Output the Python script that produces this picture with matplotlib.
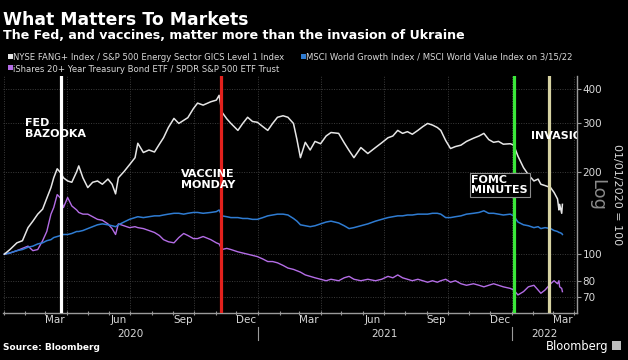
import numpy as np
import pandas as pd
import matplotlib
matplotlib.use('Agg')
import matplotlib.pyplot as plt
import matplotlib.dates as mdates
import matplotlib.transforms as mtransforms
from matplotlib.patches import Rectangle

# Values (01/01/2020 = 100)
dates = pd.to_datetime([
    '2020-01-02', '2020-01-10', '2020-01-20', '2020-01-28', '2020-02-05', '2020-02-12',
    '2020-02-19', '2020-02-26', '2020-03-03', '2020-03-09', '2020-03-13', '2020-03-18',
    '2020-03-23', '2020-03-27', '2020-04-02', '2020-04-08', '2020-04-15', '2020-04-18',
    '2020-04-24', '2020-05-01', '2020-05-08', '2020-05-15', '2020-05-22', '2020-05-30',
    '2020-06-05', '2020-06-10', '2020-06-14', '2020-06-22', '2020-06-30', '2020-07-08',
    '2020-07-12', '2020-07-20', '2020-07-28', '2020-08-05', '2020-08-12', '2020-08-18',
    '2020-08-25', '2020-09-02', '2020-09-09', '2020-09-16', '2020-09-22', '2020-09-30',
    '2020-10-06', '2020-10-14', '2020-10-25', '2020-11-02', '2020-11-06', '2020-11-10',
    '2020-11-17', '2020-11-23', '2020-12-03', '2020-12-10', '2020-12-17', '2020-12-24',
    '2020-12-31', '2021-01-08', '2021-01-15', '2021-01-22', '2021-01-29', '2021-02-06',
    '2021-02-13', '2021-02-21', '2021-02-26', '2021-03-03', '2021-03-10', '2021-03-17',
    '2021-03-24', '2021-04-01', '2021-04-09', '2021-04-16', '2021-04-27', '2021-05-05',
    '2021-05-12', '2021-05-19', '2021-05-29', '2021-06-08', '2021-06-19', '2021-06-28',
    '2021-07-07', '2021-07-14', '2021-07-21', '2021-07-28', '2021-08-04', '2021-08-11',
    '2021-08-19', '2021-08-26', '2021-09-02', '2021-09-09', '2021-09-16', '2021-09-21',
    '2021-09-28', '2021-10-05', '2021-10-12', '2021-10-20', '2021-10-28', '2021-11-07',
    '2021-11-15', '2021-11-22', '2021-11-29', '2021-12-06', '2021-12-13', '2021-12-20',
    '2021-12-30', '2022-01-04', '2022-01-10', '2022-01-18', '2022-01-25', '2022-02-02',
    '2022-02-08', '2022-02-12', '2022-02-18', '2022-02-26', '2022-03-03', '2022-03-08',
    '2022-03-10', '2022-03-11', '2022-03-14', '2022-03-15',
])

fang_energy = [
    100, 104, 110, 112, 125, 132, 140, 146, 160, 175, 190, 205,
    198, 190, 185, 183, 200, 210, 190, 175, 183, 185, 180, 188,
    180, 166, 190, 200, 212, 225, 254, 235, 240, 236, 252, 266,
    290, 313, 300, 308, 315, 340, 356, 350, 360, 365, 380, 330,
    312, 300, 283, 300, 316, 305, 303, 292, 283, 300, 316, 320,
    316, 300, 262, 225, 256, 240, 258, 253, 270, 278, 276, 255,
    239, 225, 245, 233, 245, 255, 266, 270, 283, 276, 280, 274,
    283, 292, 300, 296, 290, 283, 260, 243, 247, 250, 258, 265,
    270, 276, 262, 256, 258, 252, 253, 250, 228, 207, 195, 185,
    188, 180, 178, 175, 168, 159, 145, 152, 141, 152,
]

growth_value = [
    100, 101, 103, 104, 106, 107, 109, 110, 112, 113, 115, 116,
    117, 118, 118, 119, 121, 121, 122, 124, 126, 128, 129, 128,
    127, 126, 128, 131, 134, 136, 137, 136, 137, 138, 138, 139,
    140, 141, 141, 140, 141, 142, 142, 141, 142, 143, 145, 138,
    137, 136, 136, 135, 135, 134, 134, 136, 138, 139, 140, 140,
    139, 135, 132, 128, 127, 126, 127, 129, 131, 132, 130, 127,
    124, 125, 127, 129, 132, 134, 136, 137, 138, 138, 139, 139,
    140, 140, 140, 141, 141, 140, 136, 136, 137, 138, 140, 141,
    142, 144, 141, 141, 140, 139, 140, 138, 131, 128, 127, 125,
    126, 124, 125, 124, 122, 121, 120, 120, 119, 118,
]

tlt_spy = [
    100, 101, 103, 105, 107, 103, 104, 112, 121, 140, 148, 165,
    160, 148, 161, 150, 145, 142, 140, 140, 137, 134, 133, 129,
    124, 118, 129, 127, 125, 126, 125, 124, 122, 120, 117, 113,
    111, 110, 115, 119, 117, 114, 114, 116, 113, 110, 109, 104,
    105, 104, 102, 101, 100, 99, 98, 96, 94, 94, 93, 91,
    89, 88, 87, 86, 84, 83, 82, 81, 80, 81, 80, 82,
    83, 81, 80, 81, 80, 81, 83, 82, 84, 82, 81, 80,
    81, 80, 79, 80, 79, 80, 81, 79, 80, 78, 77, 78,
    77, 76, 77, 78, 77, 76, 75, 74, 71, 73, 76, 77,
    74, 72, 74, 78, 80, 78, 80, 76, 75, 73,
]

events = ['2020-03-23', '2020-11-09', '2022-01-05', '2022-02-24']
event_colors = ['#ffffff', '#e3211d', '#3be83a', '#d6d2a2']

legend_labels = [
    'NYSE FANG+ Index / S&P 500 Energy Sector GICS Level 1 Index',
    'MSCI World Growth Index / MSCI World Value Index on 3/15/22',
    'iShares 20+ Year Treasury Bond ETF / SPDR S&P 500 ETF Trust',
]
series_colors = ['#e6e6e6', '#2f7cd2', '#b46de6']
yticks = [70, 80, 100, 200, 300, 400]

W, H = 628, 360


def fx(x):
    return x / W


def fy(y):
    return 1 - y / H


fig = plt.figure(figsize=(W / 100, H / 100), dpi=100, facecolor='black')
ax = fig.add_axes([fx(3), fy(313), fx(574), 237 / H])
ax.set_facecolor('black')

xmin = pd.Timestamp('2019-12-31')
xmax = pd.Timestamp('2022-04-05')

# quarter grid lines
for q in pd.date_range('2020-01-01', xmax, freq='QS'):
    ax.axvline(q, color='#3c3c3c', lw=0.7, ls=(0, (1, 1.5)), zorder=0)
for v in yticks:
    ax.axhline(v, color='#3c3c3c', lw=0.7, ls=(0, (1, 1.5)), zorder=0)

ax.plot(dates, tlt_spy, color=series_colors[2], lw=1.0, zorder=3)
ax.plot(dates, growth_value, color=series_colors[1], lw=1.1, zorder=3)
ax.plot(dates, fang_energy, color=series_colors[0], lw=1.1, zorder=4)

for d, c in zip(events, event_colors):
    ax.axvline(pd.Timestamp(d), color=c, lw=2.3, zorder=5)

ax.set_yscale('log')
ax.set_ylim(61, 447)
ax.set_xlim(xmin, xmax)

ax.yaxis.tick_right()
ax.set_yticks(yticks)
ax.set_yticklabels([str(v) for v in yticks])
ax.yaxis.set_minor_locator(matplotlib.ticker.NullLocator())
ax.tick_params(axis='y', colors='#9a9a9a', labelcolor='#d8d8d8', labelsize=7.5,
               length=3, width=0.8, pad=1)

ax.xaxis.set_major_locator(mdates.MonthLocator())
ax.xaxis.set_major_formatter(matplotlib.ticker.NullFormatter())
ax.xaxis.set_minor_locator(mdates.MonthLocator(bymonth=(3, 6, 9, 12), bymonthday=15))
ax.xaxis.set_minor_formatter(mdates.DateFormatter('%b'))
ax.tick_params(axis='x', which='major', colors='#9a9a9a', length=3, width=0.8, direction='inout')
ax.tick_params(axis='x', which='minor', length=0, labelcolor='#d8d8d8', labelsize=7.5, pad=1.5)

for s in ['top', 'left']:
    ax.spines[s].set_visible(False)
for s in ['bottom', 'right']:
    ax.spines[s].set_color('#9a9a9a')
    ax.spines[s].set_linewidth(1.0)

# year labels and separators
trans = mtransforms.blended_transform_factory(ax.transData, ax.transAxes)
for yr in [2020, 2021, 2022]:
    a = max(pd.Timestamp(f'{yr}-01-01'), xmin)
    b = min(pd.Timestamp(f'{yr}-12-31'), xmax)
    mid = a + (b - a) / 2
    ax.text(mid, -0.09, str(yr), transform=trans, ha='center', va='center',
            color='#d8d8d8', fontsize=7.5)
    if yr > 2020:
        ax.plot([a, a], [-0.06, -0.115], transform=trans, color='#9a9a9a',
                lw=0.8, clip_on=False)

# event annotations
ann = dict(color='white', fontsize=8, fontweight='bold', linespacing=1.1, zorder=6)
ax.text(pd.Timestamp('2020-01-31'), 288, 'FED\nBAZOOKA', ha='left', va='center', **ann)
ax.text(pd.Timestamp('2020-09-12'), 187, 'VACCINE\nMONDAY', ha='left', va='center', **ann)
ax.text(pd.Timestamp('2021-11-04'), 179, 'FOMC\nMINUTES', ha='left', va='center',
        bbox=dict(boxstyle='square,pad=0.15', fc='black', ec='#8c8c8c', lw=0.8), **ann)
ax.text(pd.Timestamp('2022-01-29'), 269, 'INVASION', ha='left', va='center',
        clip_on=True, **ann)

# titles
fig.text(fx(3), fy(25), 'What Matters To Markets', color='white', fontsize=12.4,
         fontweight='bold', va='baseline')
fig.text(fx(3), fy(39), 'The Fed, and vaccines, matter more than the invasion of Ukraine',
         color='white', fontsize=9.1, fontweight='bold', va='baseline')

# legend
leg_pos = [(8, 54, 13, 60), (301, 54, 306, 60), (8, 65, 13, 72)]
for (mx, my, tx, ty), lab, col in zip(leg_pos, legend_labels, series_colors):
    fig.add_artist(Rectangle((fx(mx), fy(my + 5)), 5 / W, 5 / H, transform=fig.transFigure,
                             facecolor=col, edgecolor='none'))
    fig.text(fx(tx), fy(ty), lab, color='#d8d8d8', fontsize=6.1, va='baseline')

# right axis captions
fig.text(fx(597), fy(195), 'Log', color='#8a8a8a', fontsize=13, rotation=270,
         ha='center', va='center')
fig.text(fx(617), fy(195), '01/01/2020 = 100', color='#d8d8d8', fontsize=8, rotation=270,
         ha='center', va='center')

# footer
fig.text(fx(3), fy(350), 'Source: Bloomberg', color='white', fontsize=6.5,
         fontweight='bold', va='baseline')
fig.text(fx(608), fy(350), 'Bloomberg', color='white', fontsize=8.3, ha='right',
         va='baseline')
fig.add_artist(Rectangle((fx(612), fy(350)), 9 / W, 9 / H, transform=fig.transFigure,
                         facecolor='#bdbdbd', edgecolor='none'))

fig.savefig('out.png', dpi=100, facecolor='black')
